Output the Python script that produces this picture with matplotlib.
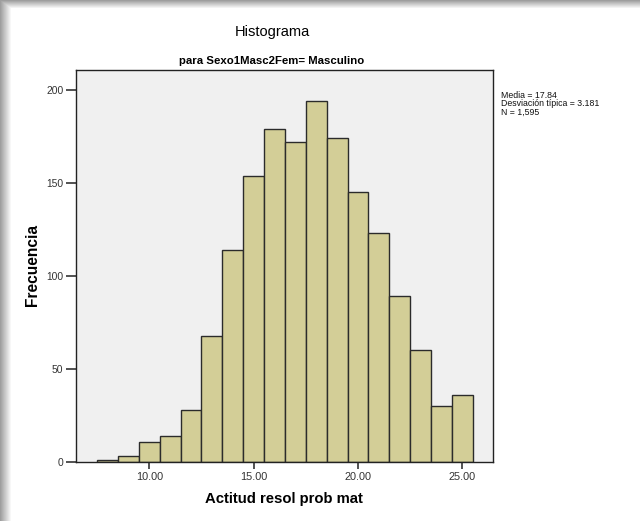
import numpy as np
import matplotlib.pyplot as plt

# histogram counts per 1-point bin, bins centered on 8..25
bin_centers = [8, 9, 10, 11, 12, 13, 14, 15, 16, 17, 18, 19, 20, 21, 22, 23, 24, 25]
counts = [1, 3, 11, 14, 28, 68, 114, 154, 179, 172, 194, 174, 145, 123, 89, 60, 30, 36]
x_ticks = [10, 15, 20, 25]
x_tick_labels = ['10.00', '15.00', '20.00', '25.00']
y_ticks = [0, 50, 100, 150, 200]
stats_lines = ['Media = 17.84', 'Desviación típica = 3.181', 'N = 1,595']

plt.rcParams['font.family'] = ['Liberation Sans', 'DejaVu Sans']

fig = plt.figure(figsize=(6.4, 5.21), dpi=100)
fig.patch.set_facecolor('white')

# shadow along left and top edge (screenshot frame)
bg = fig.add_axes([0, 0, 1, 1], zorder=-5)
bg.set_axis_off()
W, H = 640, 521
left = np.clip(np.arange(W) / 11.0, 0, 1)
top = np.clip(np.arange(H) / 8.0, 0, 1)
img = 0.62 + 0.38 * np.minimum(left[None, :], top[:, None])
bg.imshow(img, cmap='gray', vmin=0, vmax=1, aspect='auto', extent=[0, 1, 0, 1],
          interpolation='bilinear')
bg.set_xlim(0, 1)
bg.set_ylim(0, 1)

ax = fig.add_axes([76 / 640, 59 / 521, 417 / 640, 392 / 521])
ax.set_facecolor('#F0F0F0')
ax.bar(bin_centers, counts, width=1.0, color='#D3CE97', edgecolor='#2b2b2b', linewidth=1.0)

ax.set_xlim(6.49, 26.47)
ax.set_ylim(0, 210.8)
ax.set_xticks(x_ticks)
ax.set_xticklabels(x_tick_labels)
ax.set_yticks(y_ticks)
ax.tick_params(axis='both', direction='out', length=5, width=1.2, color='#333333',
               labelcolor='#333333', pad=2)
ax.tick_params(axis='x', labelsize=7.8)
ax.tick_params(axis='y', length=7, labelsize=7.4)
for s in ax.spines.values():
    s.set_color('#222222')
    s.set_linewidth(1.0)

fig.text(272 / 640, 1 - 32 / 521, 'Histograma', ha='center', va='center', fontsize=10.5)
fig.text(272 / 640, 1 - 61 / 521, 'para Sexo1Masc2Fem= Masculino', ha='center', va='center',
         fontsize=8.2, fontweight='bold')
fig.text(284 / 640, 1 - 499 / 521, 'Actitud resol prob mat', ha='center', va='center',
         fontsize=10.7, fontweight='bold')
fig.text(33 / 640, 1 - 265 / 521, 'Frecuencia', ha='center', va='center', rotation=90,
         fontsize=11.2, fontweight='bold')

for i, line in enumerate(stats_lines):
    fig.text(501 / 640, 1 - (95 + 8.5 * i) / 521, line, ha='left', va='center',
             fontsize=6.3, color='#111111')

fig.savefig('out.png', dpi=100)
